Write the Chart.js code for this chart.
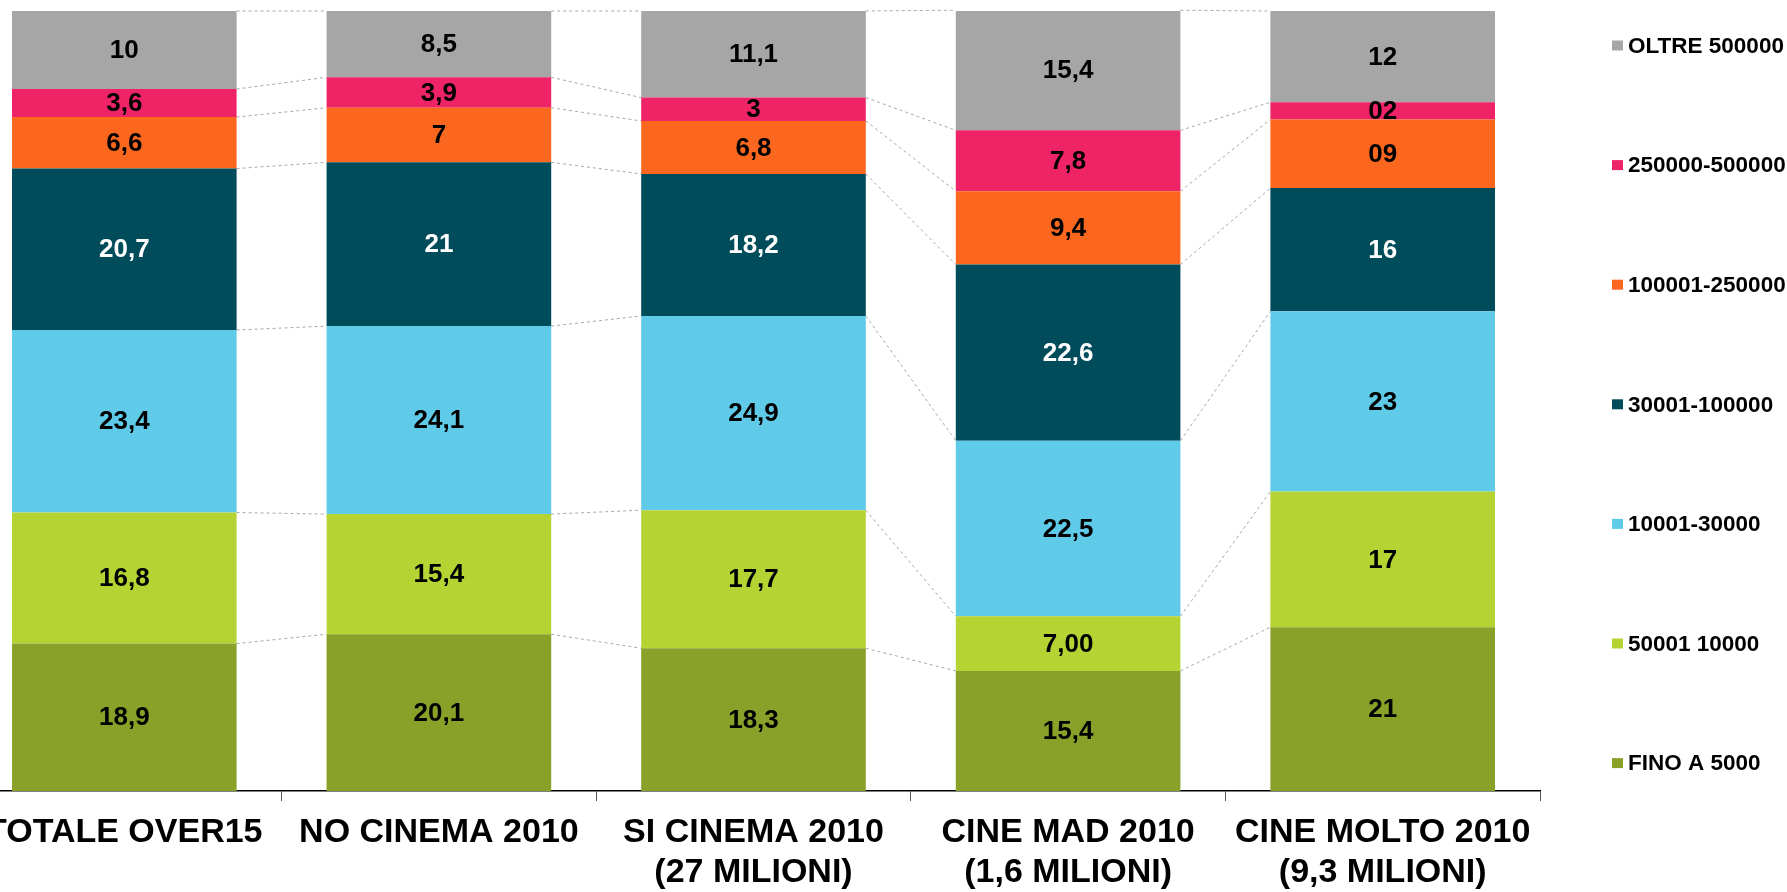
<!DOCTYPE html>
<html>
<head>
<meta charset="utf-8">
<script src="https://cdn.jsdelivr.net/npm/chart.js@4"></script>
<style>
  html, body { margin: 0; padding: 0; background: #fff; overflow: hidden; }
  #wrap { position: absolute; left: -33px; top: 0; width: 1820px; height: 892px; }
</style>
</head>
<body>
<div id="wrap"><canvas id="chart" width="1820" height="892"></canvas></div>
<script>
const categories = [
  "TOTALE OVER15",
  "NO CINEMA 2010",
  ["SI CINEMA 2010", "(27 MILIONI)"],
  ["CINE MAD 2010", "(1,6 MILIONI)"],
  ["CINE MOLTO 2010", "(9,3 MILIONI)"]
];

// bottom to top
const seriesNames = ["FINO A 5000", "50001 10000", "10001-30000", "30001-100000", "100001-250000", "250000-500000", "OLTRE 500000"];
const seriesColors = ["#89A128", "#B6D334", "#5FCBE8", "#004C5B", "#FC671F", "#EF2466", "#A6A6A6"];

// segment heights
const fino5000   = [18.9, 20.1, 18.3, 15.4, 21];
const da50001    = [16.8, 15.4, 17.7, 7.0, 17.4];
const da10001    = [23.4, 24.1, 24.9, 22.5, 23.1];
const da30001    = [20.7, 21, 18.2, 22.6, 15.8];
const da100001   = [6.6, 7, 6.8, 9.4, 8.8];
const da250000   = [3.6, 3.9, 3, 7.8, 2.2];
const oltre500k  = [10, 8.5, 11.1, 15.4, 11.7];

// labels as printed on the chart
const fino5000Labels  = ["18,9", "20,1", "18,3", "15,4", "21"];
const da50001Labels   = ["16,8", "15,4", "17,7", "7,00", "17"];
const da10001Labels   = ["23,4", "24,1", "24,9", "22,5", "23"];
const da30001Labels   = ["20,7", "21", "18,2", "22,6", "16"];
const da100001Labels  = ["6,6", "7", "6,8", "9,4", "09"];
const da250000Labels  = ["3,6", "3,9", "3", "7,8", "02"];
const oltre500kLabels = ["10", "8,5", "11,1", "15,4", "12"];

const allValues = [fino5000, da50001, da10001, da30001, da100001, da250000, oltre500k];
const allLabels = [fino5000Labels, da50001Labels, da10001Labels, da30001Labels, da100001Labels, da250000Labels, oltre500kLabels];

const FONT = '"Liberation Sans", Arial, sans-serif';
Chart.defaults.font.family = FONT;

const datasets = allValues.map((vals, i) => ({
  label: seriesNames[i],
  data: vals,
  backgroundColor: seriesColors[i],
  borderWidth: 0,
  barPercentage: 0.714,
  categoryPercentage: 1.0,
  valueLabels: allLabels[i]
}));

// dotted series lines between the bars
const seriesLines = {
  id: "seriesLines",
  beforeDatasetsDraw(chart) {
    const ctx = chart.ctx;
    ctx.save();
    ctx.strokeStyle = "#A8A8A8";
    ctx.lineWidth = 1;
    ctx.setLineDash([3, 3]);
    chart.data.datasets.forEach((ds, di) => {
      const bars = chart.getDatasetMeta(di).data;
      for (let i = 0; i < bars.length - 1; i++) {
        const a = bars[i], b = bars[i + 1];
        ctx.beginPath();
        ctx.moveTo(a.x + a.width / 2, a.y);
        ctx.lineTo(b.x - b.width / 2, b.y);
        ctx.stroke();
      }
    });
    ctx.restore();
  }
};

// value labels centered in segments
const segmentLabels = {
  id: "segmentLabels",
  afterDatasetsDraw(chart) {
    const ctx = chart.ctx;
    ctx.save();
    ctx.font = "bold 26px " + FONT;
    ctx.textAlign = "center";
    ctx.textBaseline = "middle";
    chart.data.datasets.forEach((ds, di) => {
      const bars = chart.getDatasetMeta(di).data;
      bars.forEach((bar, i) => {
        ctx.fillStyle = di === 3 ? "#FFFFFF" : "#000000";
        ctx.fillText(ds.valueLabels[i], bar.x, (bar.y + bar.base) / 2 + 1);
      });
    });
    ctx.restore();
  }
};

// legend on the right, top to bottom in reverse stack order
const sideLegend = {
  id: "sideLegend",
  afterDraw(chart) {
    const ctx = chart.ctx;
    ctx.save();
    ctx.font = "bold 22.5px " + FONT;
    ctx.textBaseline = "middle";
    ctx.textAlign = "left";
    const n = chart.data.datasets.length;
    for (let k = 0; k < n; k++) {
      const ds = chart.data.datasets[n - 1 - k];
      const y = 45.5 + k * 119.6;
      ctx.fillStyle = ds.backgroundColor;
      ctx.fillRect(1645, y - 5, 11, 10);
      ctx.fillStyle = "#000";
      ctx.fillText(ds.label, 1661, y + 1);
    }
    ctx.restore();
  }
};

new Chart(document.getElementById("chart"), {
  type: "bar",
  data: { labels: categories, datasets: datasets },
  plugins: [seriesLines, segmentLabels, sideLegend],
  options: {
    responsive: false,
    animation: false,
    layout: { padding: { top: 11, right: 247, left: 0, bottom: 0 } },
    plugins: {
      legend: { display: false },
      tooltip: { enabled: false }
    },
    scales: {
      x: {
        stacked: true,
        grid: { drawOnChartArea: false, tickLength: 10, color: "#555", offset: true },
        border: { color: "#000", width: 1.5 },
        ticks: {
          color: "#000",
          font: { size: 34, weight: "bold", lineHeight: 1.19 },
          padding: 11,
          maxRotation: 0,
          autoSkip: false
        },
        afterFit(scale) { scale.height = 101; }
      },
      y: {
        stacked: true,
        display: false,
        min: 0,
        max: 100
      }
    }
  }
});
</script>
</body>
</html>
